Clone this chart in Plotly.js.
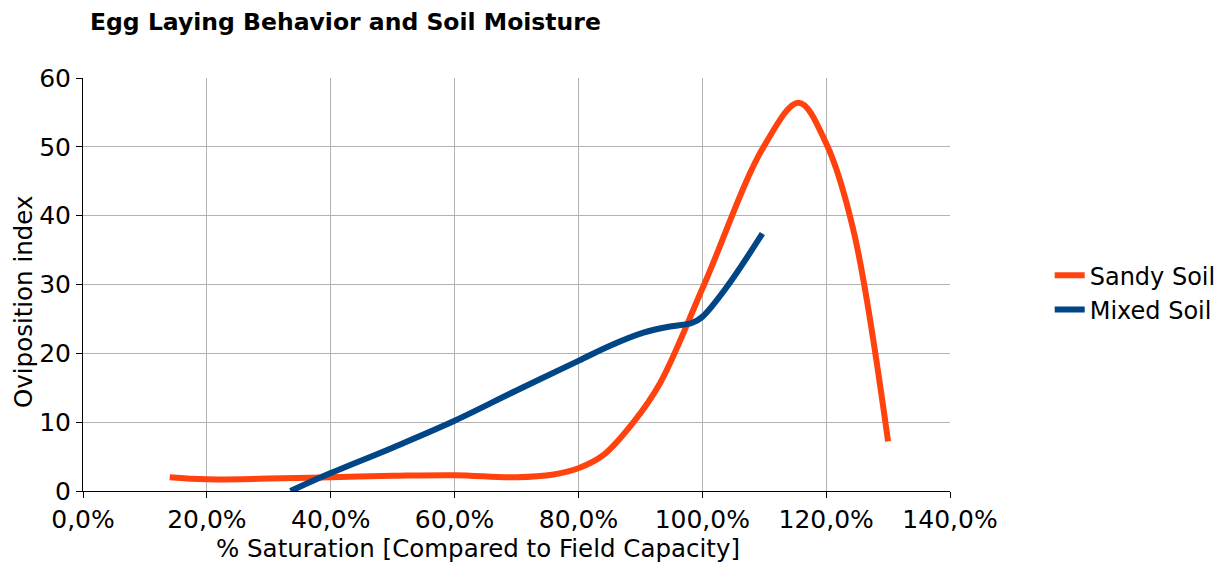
<!DOCTYPE html>
<html><head><meta charset="utf-8">
<script src="https://cdn.plot.ly/plotly-3.0.1.min.js"></script>
<style>body{margin:0;background:#fff}#chart{width:1226px;height:563px}</style>
</head><body><div id="chart"></div>
<script>
// Sandy soil (saturation fraction, oviposition index)
const sandyX = [0.14, 0.20, 0.30, 0.40, 0.50, 0.60, 0.70, 0.76, 0.80, 0.84, 0.888, 0.932, 1.003, 1.099, 1.156, 1.20, 1.244, 1.30];
const sandyY = [2.0, 1.7, 1.8, 2.0, 2.2, 2.3, 2.0, 2.4, 3.3, 5.2, 9.9, 15.7, 30.0, 50.0, 56.4, 50.5, 37.9, 7.2];
// Mixed soil
const mixedX = [0.335, 0.40, 0.50, 0.60, 0.70, 0.80, 0.851, 0.905, 0.948, 0.983, 1.00, 1.04, 1.097];
const mixedY = [0.0, 2.6, 6.3, 10.2, 14.6, 18.9, 21.1, 23.0, 23.9, 24.4, 25.3, 29.7, 37.4];
const seriesNames = ["Sandy Soil", "Mixed Soil"];
const xTicks = [0, 0.2, 0.4, 0.6, 0.8, 1.0, 1.2, 1.4];
const yTicks = [0, 10, 20, 30, 40, 50, 60];
const xTitle = "% Saturation [Compared to Field Capacity]";
const yTitle = "Oviposition index";

const font = "DejaVu Sans, Verdana, sans-serif";
const traces = [
  {x: sandyX, y: sandyY, name: seriesNames[0], mode: "lines", type: "scatter",
   line: {color: "#ff420e", width: 6, shape: "spline", smoothing: 1}},
  {x: mixedX, y: mixedY, name: seriesNames[1], mode: "lines", type: "scatter",
   line: {color: "#004586", width: 6, shape: "spline", smoothing: 1}}
];
const layout = {
  width: 1226, height: 563,
  margin: {l: 83, r: 276, t: 78, b: 72, autoexpand: false},
  paper_bgcolor: "#fff", plot_bgcolor: "#fff",
  separators: ",.",
  font: {family: font, size: 24, color: "#000"},
  title: {text: "<b>Egg Laying Behavior and Soil Moisture</b>", x: 90/1226, xanchor: "left",
          y: 1 - 22/563, yanchor: "middle", font: {family: font, size: 23.5, color: "#000"}},
  xaxis: {range: [0, 1.4], tickvals: xTicks, tickformat: ".1%",
          showgrid: true, gridcolor: "#b3b3b3", gridwidth: 1,
          showline: true, linecolor: "#000", linewidth: 1,
          ticks: "outside", ticklen: 6, tickcolor: "#000", zeroline: false,
          tickfont: {family: font, size: 25}},
  yaxis: {range: [0, 60], tickvals: yTicks,
          showgrid: true, gridcolor: "#b3b3b3", gridwidth: 1,
          showline: true, linecolor: "#000", linewidth: 1,
          ticks: "outside", ticklen: 6, tickcolor: "#000", zeroline: false,
          tickfont: {family: font, size: 25}},
  annotations: [
    {text: xTitle, xref: "paper", yref: "paper", x: (478-83)/867, y: (491-548)/413,
     xanchor: "center", yanchor: "middle", showarrow: false, font: {family: font, size: 24.5}},
    {text: yTitle, xref: "paper", yref: "paper", x: (23-83)/867, y: (491-302)/413, textangle: -90,
     xanchor: "center", yanchor: "middle", showarrow: false, font: {family: font, size: 24.5}}
  ],
  legend: {x: 1.115, xanchor: "left", y: 0.48, yanchor: "middle",
           font: {family: font, size: 24}, bgcolor: "rgba(0,0,0,0)", tracegroupgap: 0},
  showlegend: true
};
Plotly.newPlot("chart", traces, layout, {displayModeBar: false, staticPlot: true});
</script></body></html>
